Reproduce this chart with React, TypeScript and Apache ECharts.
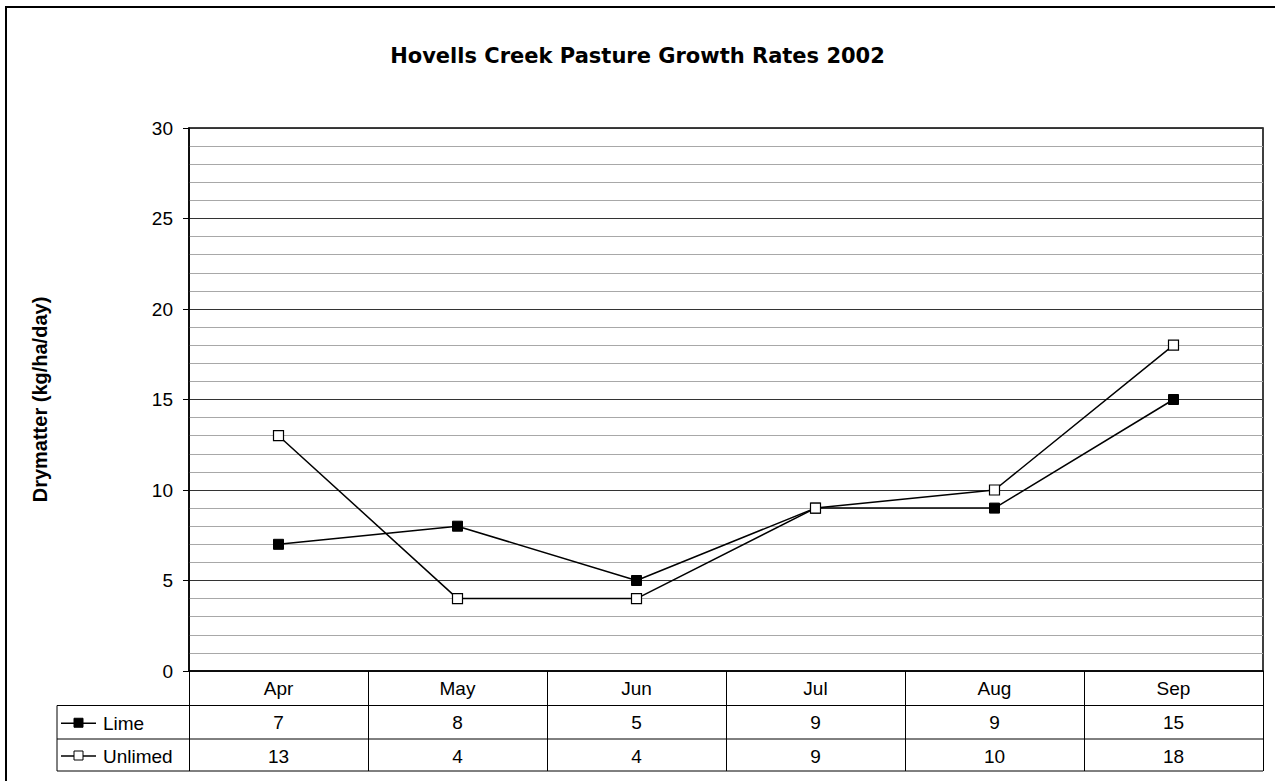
import React, { useEffect, useRef } from "react";
import * as echarts from "echarts";

const months = ["Apr", "May", "Jun", "Jul", "Aug", "Sep"];
const lime = [7, 8, 5, 9, 9, 15];
const unlimed = [13, 4, 4, 9, 10, 18];
const seriesNames = ["Lime", "Unlimed"];

const GRID = { left: 189, top: 128, right: 1263, bottom: 671 };
const ROW_LINES = [705.5, 739, 771];
const LINE_H = 34;
const FONT = "Arial, 'Liberation Sans', sans-serif";

export default function App() {
  const ref = useRef<HTMLDivElement>(null);
  useEffect(() => {
    if (!ref.current) return;
    const chart = echarts.init(ref.current, null, { renderer: "svg" });
    const gw = GRID.right - GRID.left;
    const gh = GRID.bottom - GRID.top;
    const legX = 57;
    const legendItem = (name: string, row: number, filled: boolean) => {
      const cy = (ROW_LINES[row] + ROW_LINES[row + 1]) / 2 + 1;
      return [
        { type: "line", shape: { x1: 61, y1: cy, x2: 96, y2: cy }, style: { stroke: "#000", lineWidth: 1.5 } },
        { type: "rect", shape: { x: 74, y: cy - 5, width: 9, height: 9 }, style: { fill: filled ? "#000" : "#fff", stroke: "#000", lineWidth: 1 } },
        { type: "text", x: 103, y: cy, style: { text: name, font: `19px ${FONT}`, fill: "#000", verticalAlign: "middle", align: "left" } },
      ];
    };
    const hLine = (y: number) => ({ type: "line", shape: { x1: legX, y1: y, x2: GRID.right, y2: y }, style: { stroke: "#000", lineWidth: 1 } });
    chart.setOption({
      animation: false,
      backgroundColor: "#fff",
      title: {
        text: "Hovells Creek Pasture Growth Rates 2002",
        left: "center",
        top: 40,
        textStyle: { fontFamily: "'Comic Sans MS', 'DejaVu Sans', sans-serif", fontWeight: "bold", fontSize: 21, color: "#000" },
      },
      grid: { left: GRID.left, top: GRID.top, width: gw, height: gh, show: true, borderColor: "#000", borderWidth: 1.5 },
      xAxis: {
        type: "category",
        data: months,
        boundaryGap: true,
        axisLine: { lineStyle: { color: "#000", width: 1.5 } },
        axisTick: { show: true, length: ROW_LINES[2] - GRID.bottom, lineStyle: { color: "#000", width: 1 } },
        axisLabel: {
          margin: 0,
          fontFamily: FONT,
          fontSize: 19,
          color: "#000",
          lineHeight: LINE_H,
          formatter: (v: string, i: number) => `${v}\n${lime[i]}\n${unlimed[i]}`,
        },
        splitLine: { show: false },
      },
      yAxis: {
        type: "value",
        min: 0,
        max: 30,
        interval: 5,
        name: "Drymatter (kg/ha/day)",
        nameLocation: "middle",
        nameGap: 139,
        nameTextStyle: { fontFamily: FONT, fontWeight: "bold", fontSize: 20, color: "#000" },
        axisLine: { show: true, lineStyle: { color: "#000", width: 1.5 } },
        axisTick: { show: true, length: 6, lineStyle: { color: "#000" } },
        axisLabel: { margin: 16, fontFamily: FONT, fontSize: 19, color: "#000" },
        splitLine: { show: true, lineStyle: { color: "#333", width: 1 } },
        minorTick: { show: false, splitNumber: 5 },
        minorSplitLine: { show: true, lineStyle: { color: "#a8a8a8", width: 1 } },
      },
      series: [
        {
          name: seriesNames[0],
          type: "line",
          data: lime,
          symbol: "rect",
          symbolSize: 10,
          itemStyle: { color: "#000", borderColor: "#000", borderWidth: 1 },
          lineStyle: { color: "#000", width: 1.5 },
          z: 3,
        },
        {
          name: seriesNames[1],
          type: "line",
          data: unlimed,
          symbol: "rect",
          symbolSize: 10,
          itemStyle: { color: "#fff", borderColor: "#000", borderWidth: 1.2 },
          lineStyle: { color: "#000", width: 1.5 },
          z: 4,
        },
      ],
      graphic: [
        { type: "rect", shape: { x: 6, y: 7, width: 1300, height: 800 }, style: { fill: "none", stroke: "#000", lineWidth: 2 }, silent: true },
        hLine(ROW_LINES[0]),
        hLine(ROW_LINES[1]),
        hLine(ROW_LINES[2]),
        { type: "line", shape: { x1: legX, y1: ROW_LINES[0], x2: legX, y2: ROW_LINES[2] }, style: { stroke: "#000", lineWidth: 1 } },
        ...legendItem(seriesNames[0], 0, true),
        ...legendItem(seriesNames[1], 1, false),
      ],
    });
    return () => chart.dispose();
  }, []);
  return <div ref={ref} style={{ position: "absolute", left: 0, top: 0, width: 1275, height: 781 }} />;
}
